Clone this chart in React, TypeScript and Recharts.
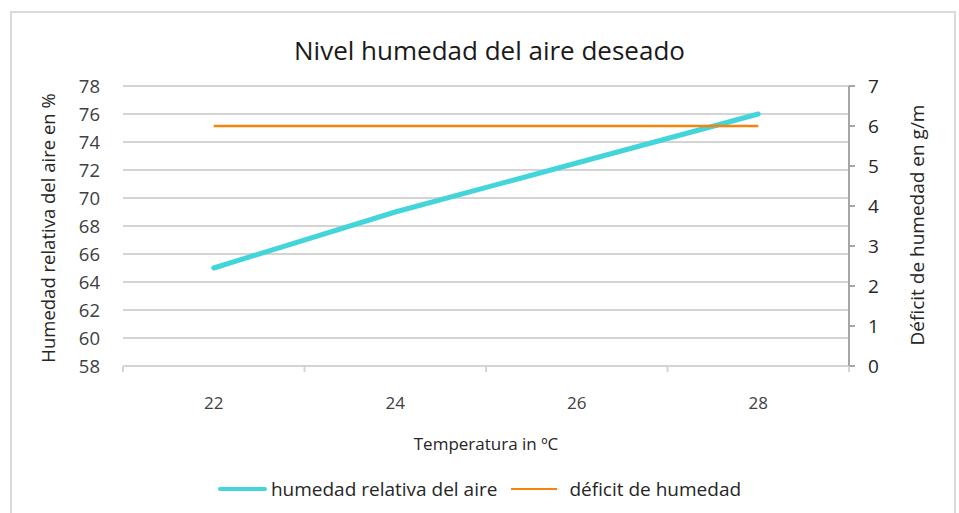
import React from "react";
import {
  LineChart,
  Line,
  XAxis,
  YAxis,
  CartesianGrid,
  Legend,
} from "recharts";

const temperatures = ["22", "24", "26", "28"];
const humedadRelativa = [65, 69, 72.5, 76];
const deficitHumedad = [6, 6, 6, 6];
const leftTicks = [58, 60, 62, 64, 66, 68, 70, 72, 74, 76, 78];
const rightTicks = [0, 1, 2, 3, 4, 5, 6, 7];

const data = temperatures.map((t, i) => ({
  temp: t,
  humedad: humedadRelativa[i],
  deficit: deficitHumedad[i],
}));

const FONT = "'Open Sans', 'Noto Sans', sans-serif";
const W = 959;
const H = 513;
const LEFT_W = 123;
const RIGHT_W = 110;
const PLOT_W = W - LEFT_W - RIGHT_W;
const BAND = PLOT_W / temperatures.length;
const AXIS_Y_MARGIN = 31;

const CYAN = "#43D5DA";
const ORANGE = "#F7830F";
const GRID = "#D4D4D4";

const XTick = (props: any) => {
  const { x, y, payload, index } = props;
  const axisY = y - AXIS_Y_MARGIN;
  const isLast = index === temperatures.length - 1;
  return (
    <g>
      <line x1={x - BAND / 2} x2={x - BAND / 2} y1={axisY} y2={axisY + 6} stroke={GRID} strokeWidth={2} />
      {isLast && (
        <line x1={x + BAND / 2} x2={x + BAND / 2} y1={axisY} y2={axisY + 6} stroke={GRID} strokeWidth={2} />
      )}
      <text x={x} y={y} dy="0.71em" textAnchor="middle" fill="#404040" fontSize={17} fontFamily={FONT}>
        {payload.value}
      </text>
    </g>
  );
};

const LegendContent = () => (
  <div
    style={{
      height: 24,
      display: "flex",
      alignItems: "center",
      justifyContent: "center",
      fontFamily: FONT,
      fontSize: 19,
      color: "#262626",
      paddingLeft: 0,
    }}
  >
    <span style={{ width: 49, height: 4, background: CYAN, borderRadius: 2, marginRight: 4 }} />
    <span style={{ marginRight: 14 }}>humedad relativa del aire</span>
    <span style={{ width: 46, height: 2, background: ORANGE, marginRight: 12 }} />
    <span>déficit de humedad</span>
  </div>
);

export default function App() {
  return (
    <div
      style={{
        position: "absolute",
        left: 0,
        top: 0,
        width: W,
        height: H,
        overflow: "hidden",
        background: "#fff",
      }}
    >
      <div
        style={{
          position: "absolute",
          left: 10,
          top: 11,
          width: 942,
          height: 520,
          border: "2px solid #D9D9D9",
        }}
      />
      <div
        style={{
          position: "absolute",
          left: 0,
          top: 32,
          width: 979,
          textAlign: "center",
          fontFamily: FONT,
          fontSize: 26,
          color: "#1a1a1a",
        }}
      >
        Nivel humedad del aire deseado
      </div>
      <div style={{ position: "absolute", left: 0, top: 0 }}>
        <LineChart
          width={W}
          height={H}
          data={data}
          margin={{ top: 86, right: 0, left: 0, bottom: 33 }}
        >
          <CartesianGrid
            yAxisId="left"
            horizontal
            vertical={false}
            stroke={GRID}
            strokeWidth={2}
          />
          <XAxis
            dataKey="temp"
            scale="band"
            height={90}
            axisLine={{ stroke: GRID, strokeWidth: 2 }}
            tickLine={false}
            tickSize={0}
            tickMargin={AXIS_Y_MARGIN}
            tick={<XTick />}
            interval={0}
            label={{
              value: "Temperatura in ºC",
              position: "insideBottom",
              offset: 6,
              fill: "#262626",
              fontSize: 17,
              fontFamily: FONT,
            }}
          />
          <YAxis
            yAxisId="left"
            width={LEFT_W}
            domain={[58, 78]}
            ticks={leftTicks}
            interval={0}
            axisLine={false}
            tickLine={false}
            tickSize={0}
            tickMargin={23}
            tick={{ fill: "#404040", fontSize: 18.5, fontFamily: FONT }}
            label={{
              content: (p: any) => {
                const vb = p.viewBox || { x: 0, y: 86, height: 280 };
                const cx = vb.x + 47;
                const cy = vb.y + vb.height / 2 + 2;
                return (
                  <text
                    x={cx}
                    y={cy}
                    transform={`rotate(-90 ${cx} ${cy})`}
                    textAnchor="middle"
                    dominantBaseline="central"
                    fill="#262626"
                    fontSize={18.5}
                    fontFamily={FONT}
                  >
                    Humedad relativa del aire en %
                  </text>
                );
              },
            }}
          />
          <YAxis
            yAxisId="right"
            orientation="right"
            width={RIGHT_W}
            domain={[0, 7]}
            ticks={rightTicks}
            interval={0}
            axisLine={{ stroke: "#A6A6A6", strokeWidth: 2 }}
            tickLine={{ stroke: "#A6A6A6", strokeWidth: 2 }}
            tickSize={6}
            tickMargin={13}
            tick={{ fill: "#262626", fontSize: 19, fontFamily: FONT }}
            label={{
              content: (p: any) => {
                const vb = p.viewBox || { x: 849, y: 86, height: 280 };
                const cx = vb.x + 68;
                const cy = vb.y + vb.height / 2 - 1;
                return (
                  <text
                    x={cx}
                    y={cy}
                    transform={`rotate(-90 ${cx} ${cy})`}
                    textAnchor="middle"
                    dominantBaseline="central"
                    fill="#262626"
                    fontSize={19}
                    fontFamily={FONT}
                  >
                    Déficit de humedad en g/m
                  </text>
                );
              },
            }}
          />
          <Legend
            verticalAlign="bottom"
            content={<LegendContent />}
            wrapperStyle={{ bottom: 12, left: 0, width: W }}
          />
          <Line
            yAxisId="left"
            dataKey="humedad"
            name="humedad relativa del aire"
            stroke={CYAN}
            strokeWidth={5}
            strokeLinecap="round"
            dot={false}
            activeDot={false}
            isAnimationActive={false}
          />
          <Line
            yAxisId="right"
            dataKey="deficit"
            name="déficit de humedad"
            stroke={ORANGE}
            strokeWidth={2.5}
            dot={false}
            activeDot={false}
            isAnimationActive={false}
          />
        </LineChart>
      </div>
    </div>
  );
}
